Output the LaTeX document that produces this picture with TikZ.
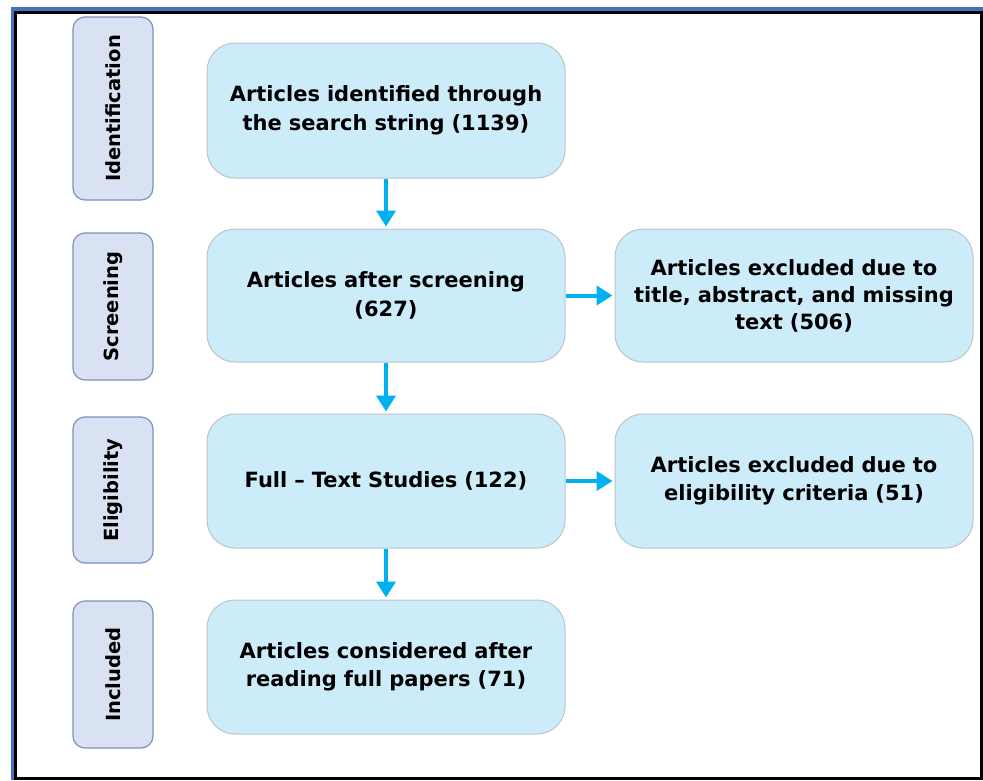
\documentclass[tikz,border=0pt]{standalone}
\usepackage{fontspec}
\setmainfont{DejaVu Sans}
\usetikzlibrary{positioning,arrows.meta}

\definecolor{boxfill}{RGB}{204,236,250}
\definecolor{boxline}{RGB}{190,196,200}
\definecolor{stagefill}{RGB}{217,226,243}
\definecolor{stageline}{RGB}{125,145,190}
\definecolor{flowblue}{RGB}{0,176,240}
\definecolor{frameblue}{RGB}{68,114,196}

\tikzset{
  mainbox/.style={draw=boxline, line width=1pt, fill=boxfill, rounded corners=28pt,
    minimum width=358pt, minimum height=134pt, align=center, text width=350pt,
    font=\fontsize{21}{28.5}\selectfont\bfseries},
  stagebox/.style={draw=stageline, line width=1.2pt, fill=stagefill, rounded corners=12pt,
    rotate=90, minimum height=80pt, font=\fontsize{19.5}{22}\selectfont\bfseries},
  flow/.style={draw=flowblue, line width=4pt, -{Triangle[length=16pt,width=19pt]}}
}

\begin{document}
\begin{tikzpicture}[x=1pt,y=-1pt]
  \pgfmathsetmacro{\MainX}{386}
  \pgfmathsetmacro{\SideX}{794}
  \pgfmathsetmacro{\StageX}{113}
  \useasboundingbox (0,0) rectangle (983,780);
  % frame
  \fill[white] (0,0) rectangle (983,780);
  \draw[frameblue, line width=4pt] (11,9) -- (983,9);
  \draw[frameblue, line width=3pt] (12.5,7) -- (12.5,780);
  \draw[black, line width=3.5pt] (15.5,12.5) -- (981.5,12.5) -- (981.5,778.5) -- (15.5,778.5) -- cycle;

  % stages
  \node[stagebox, minimum width=183pt] (ident) at (\StageX,108.5) {Identification};
  \node[stagebox, minimum width=147pt] (screen) at (\StageX,306.5) {Screening};
  \node[stagebox, minimum width=146pt] (elig) at (\StageX,490) {Eligibility};
  \node[stagebox, minimum width=147pt] (incl) at (\StageX,674.5) {Included};

  % main flow
  \node[mainbox, minimum height=135pt] (found) at (\MainX,110.5) {Articles identified through\\the search string (1139)};
  \node[mainbox, minimum height=133pt] (screened) at (\MainX,295.5) {Articles after screening\\(627)};
  \node[mainbox] (fulltext) at (\MainX,481) {Full – Text Studies (122)};
  \node[mainbox] (final) at (\MainX,667) {Articles considered after\\reading full papers (71)};

  % exclusions
  \node[mainbox, minimum height=133pt, font=\fontsize{21}{27}\selectfont\bfseries] (excla) at (\SideX,295.5) {Articles excluded due to\\title, abstract, and missing\\text (506)};
  \node[mainbox] (exclb) at (\SideX,481) {Articles excluded due to\\eligibility criteria (51)};

  \draw[flow, shorten >=2pt] (found) -- (screened);
  \draw[flow, shorten >=2pt] (screened) -- (fulltext);
  \draw[flow, shorten >=2pt] (fulltext) -- (final);
  \draw[flow, shorten >=2pt] (screened) -- (excla);
  \draw[flow, shorten >=2pt] (fulltext) -- (exclb);
\end{tikzpicture}
\end{document}
